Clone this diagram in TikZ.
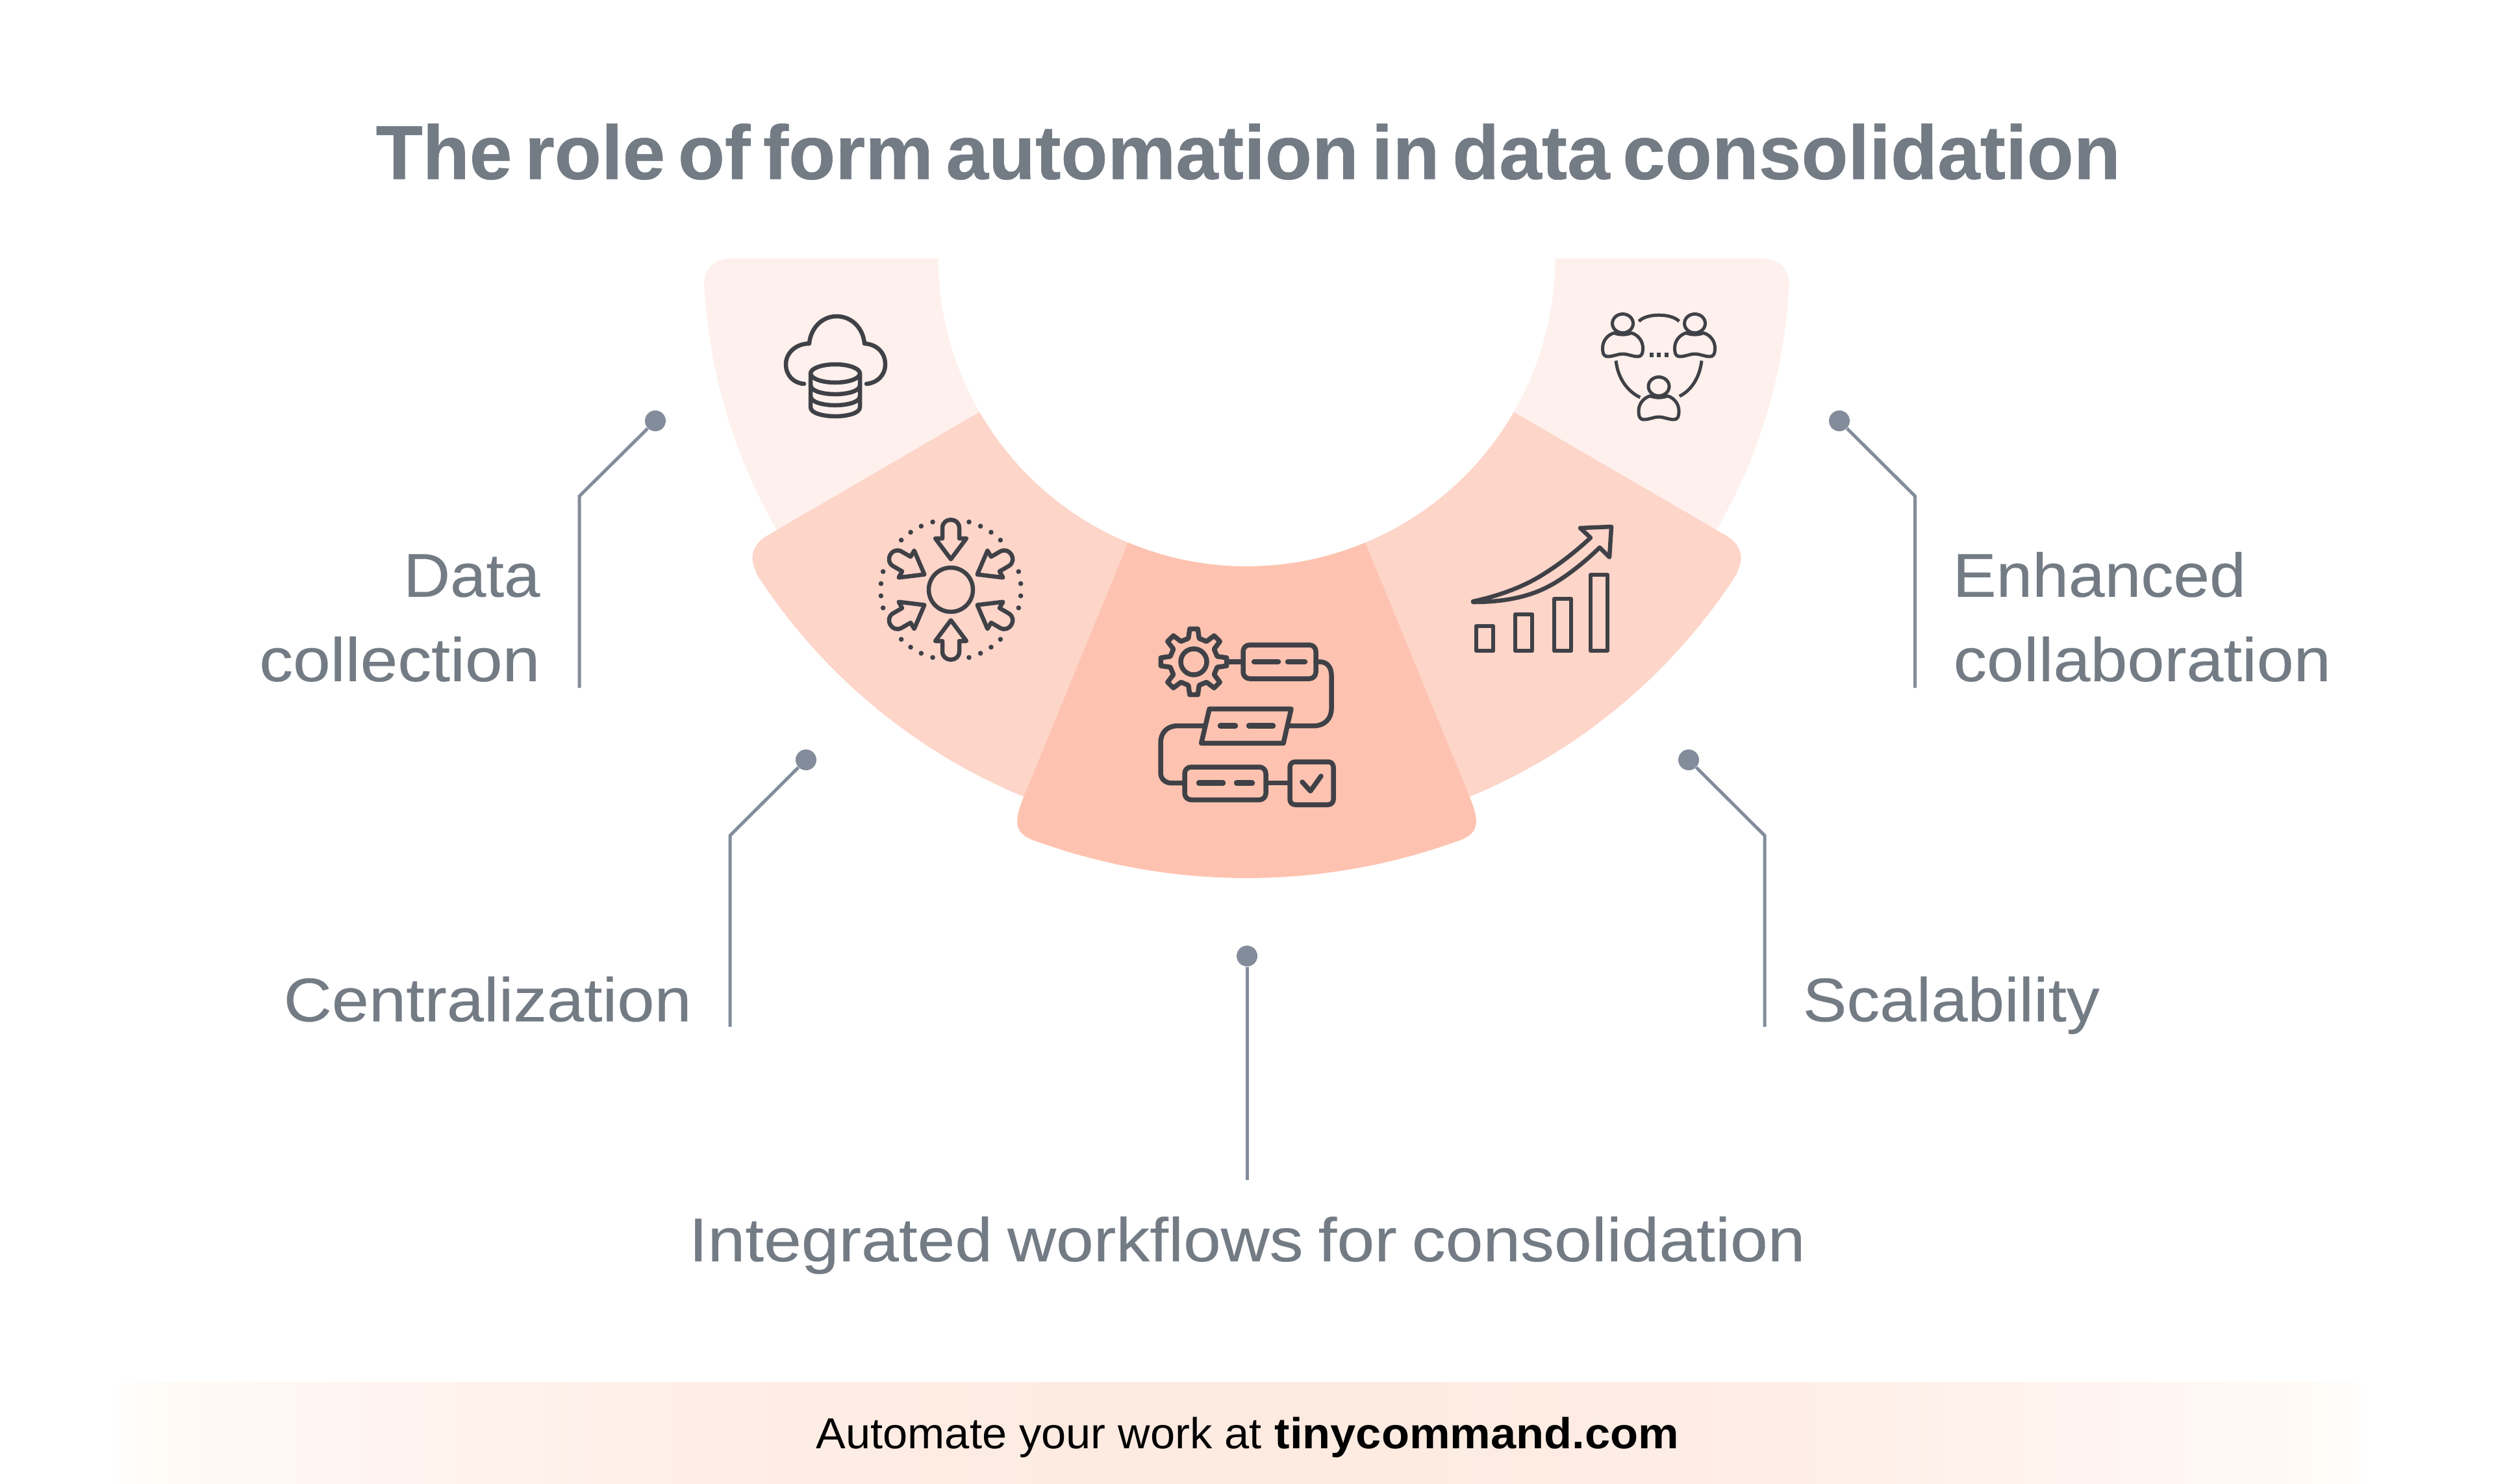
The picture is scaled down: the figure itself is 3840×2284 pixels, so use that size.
\documentclass[tikz,border=0pt]{standalone}
\usepackage{fontspec}
\usepackage{graphicx}
\setmainfont{Liberation Sans}
\newfontfamily\titlefont{Liberation Sans}[WordSpace=0.6,BoldFeatures={FakeBold=0.5}]
\newfontfamily\lblfont{Liberation Sans}[WordSpace=0.8,FakeBold=0.15]
\newdimen\pxu \pxu=0.01cm
\newcommand{\fitw}[2]{\resizebox{#1\pxu}{\height}{#2}}
\definecolor{seglight}{HTML}{FEF0EC}
\definecolor{segmid}{HTML}{FDD5C9}
\definecolor{segdark}{HTML}{FEC3B0}
\definecolor{inkc}{HTML}{3F4147}
\definecolor{txtc}{HTML}{737B84}
\definecolor{linec}{HTML}{838C9B}
\definecolor{bandA}{HTML}{FFFAF4}
\definecolor{bandB}{HTML}{FFF4F0}
\definecolor{bandC}{HTML}{FEEEE6}
\definecolor{bandD}{HTML}{FDEAE0}
\pgfdeclarehorizontalshading{bandshade}{100bp}{
 color(0bp)=(white); color(25bp)=(white);
 color(26.5bp)=(bandA); color(31bp)=(bandB); color(38bp)=(bandC);
 color(50bp)=(bandD); color(62bp)=(bandC); color(69bp)=(bandB);
 color(73.5bp)=(bandA); color(75bp)=(white); color(100bp)=(white)}
\tikzset{
 dotnode/.style={circle,fill=linec,inner sep=0pt,minimum size=32\pxu},
 lead/.style={draw=linec,line width=5\pxu,miter limit=10},
 lbltext/.style={inner sep=0pt,text=txtc,font=\lblfont\fontsize{27}{37}\selectfont},
 icon/.style={draw=inkc,line width=6.5\pxu,line join=round,line cap=round},
 iconb/.style={icon,line width=7.5\pxu},
 iconc/.style={draw=inkc,line width=5\pxu,line join=round},
 dashb/.style={draw=inkc,line width=8.5\pxu,line cap=round},
 arcs/.style={domain=#1,samples=90}
}
\begin{document}
\begin{tikzpicture}[x=0.01cm,y=-0.01cm]
\useasboundingbox (0,0) rectangle (3840,2284);
\fill[white] (0,0) rectangle (3840,2284);
% footer band
\shade[shading=bandshade] (170,2128) rectangle (3650,2284);
% segments
\begin{scope}[shift={(1919.5,397)}]
 \fill[seglight] (-473.5,1) -- (-794.5,1) .. controls (-819.5,1) and (-836.5,18) .. (-835.5,43)
   -- plot[arcs=177.05:140] (\x:836) -- plot[arcs=140:180] (\x:475) -- cycle;
 \fill[seglight] (473.5,1) -- (794.5,1) .. controls (819.5,1) and (836.5,18) .. (835.5,43)
   -- plot[arcs=2.95:40] (\x:836) -- plot[arcs=40:0] (\x:475) -- cycle;
 \fill[segmid] (150:475) -- (-740.5,429) .. controls (-759.5,441) and (-767.5,461) .. (-754.5,485)
   -- plot[arcs=147.3:105] (\x:898) -- plot[arcs=105:150] (\x:475) -- cycle;
 \fill[segmid] (30:475) -- (740.5,429) .. controls (759.5,441) and (767.5,461) .. (754.5,485)
   -- plot[arcs=32.7:75] (\x:898) -- plot[arcs=75:30] (\x:475) -- cycle;
 \fill[segdark] (112.6:475) -- (-344.5,833) .. controls (-360.5,873) and (-354.5,886) .. (-328.5,897)
   -- plot[arcs=110.1:69.9] (\x:955) -- (328.5,897) .. controls (354.5,886) and (360.5,873) .. (344.5,833)
   -- (67.4:475) -- plot[arcs=67.4:112.6] (\x:475) -- cycle;
\end{scope}
% cloud icon
\draw[icon] (1238,591) .. controls (1222,590) and (1210,578) .. (1210,561) .. controls (1210,543) and (1226,529) .. (1246,529)
  .. controls (1248,505) and (1266,487) .. (1288,487) .. controls (1311,487) and (1329,505) .. (1331,529)
  .. controls (1350,530) and (1363,543) .. (1363,561) .. controls (1363,578) and (1350,590) .. (1334,591);
\draw[icon] (1286,575) ellipse [x radius=38,y radius=14];
\draw[icon] (1248,575) -- (1248,627) .. controls (1248,637) and (1270,641) .. (1286,641) .. controls (1302,641) and (1324,637) .. (1324,627) -- (1324,575);
\draw[icon] (1248,593) .. controls (1248,603) and (1270,607) .. (1286,607) .. controls (1302,607) and (1324,603) .. (1324,593);
\draw[icon] (1248,610) .. controls (1248,620) and (1270,624) .. (1286,624) .. controls (1302,624) and (1324,620) .. (1324,610);
% converge icon
\begin{scope}[shift={(1464,908)}]
 \draw[icon] (0,0) circle [radius=34];
 \foreach \a in {90,30,-30,-90,150,210}{
  \begin{scope}[rotate=\a]
   \draw[icon] (47,0) -- (79,24) -- (79,13) -- (95,13) .. controls (112,13) and (112,-13) .. (95,-13) -- (79,-13) -- (79,-24) -- cycle;
  \end{scope}
 }
 \foreach \a in {105,115,125,135,165,175,185,195,225,235,245,255,285,295,305,315,345,355,5,15,45,55,65,75}{
  \fill[inkc] (\a:108) circle [radius=3.8];
 }
\end{scope}
% process icon
\begin{scope}[shift={(1838,1019)}]
 \draw[iconb] (-13:37) \foreach \a in {0,45,...,315}{ -- (\a-13:37) -- (\a-7:51) -- (\a+7:51) -- (\a+13:37)} -- cycle;
 \draw[iconb] (0,0) circle [radius=20];
\end{scope}
\draw[iconb,rounded corners=10\pxu] (1914,993) rectangle (2026,1045);
\draw[iconb] (1890,1019) -- (1914,1019);
\draw[dashb] (1931,1019) -- (1968,1019);
\draw[dashb] (1983,1019) -- (2009,1019);
\draw[iconb] (2026,1019) -- (2032,1019) .. controls (2043,1019) and (2050,1027) .. (2050,1040) -- (2050,1091) .. controls (2050,1107) and (2039,1117.6) .. (2023,1117.6) -- (1984,1117.6);
\draw[iconb] (1862,1091.6) -- (1988,1091.6) -- (1976,1144.4) -- (1849.6,1144.4) -- cycle;
\draw[dashb] (1879,1117.6) -- (1902,1117.6);
\draw[dashb] (1923,1117.6) -- (1960,1117.6);
\draw[iconb] (1853,1117.6) -- (1813,1117.6) .. controls (1797,1117.6) and (1787,1128) .. (1787,1144) -- (1787,1190) .. controls (1787,1199) and (1794,1205.7) .. (1803.5,1205.7) -- (1824,1205.7);
\draw[iconb,rounded corners=10\pxu] (1824,1181) rectangle (1949,1231.5);
\draw[dashb] (1846,1205.7) -- (1883,1205.7);
\draw[dashb] (1904,1205.7) -- (1928,1205.7);
\draw[iconb] (1949,1205.7) -- (1986,1205.7);
\draw[iconb,rounded corners=8\pxu] (1986,1173) rectangle (2053,1239);
\draw[iconb] (2005,1204) -- (2017.6,1218) -- (2034,1195);
% growth icon
\draw[icon,line cap=butt] (2273,964) rectangle (2299,1002);
\draw[icon,line cap=butt] (2333,946) rectangle (2359,1002);
\draw[icon,line cap=butt] (2393,922) rectangle (2419,1002);
\draw[icon,line cap=butt] (2449,885) rectangle (2475,1002);
\draw[icon] (2268,926) .. controls (2310,917) and (2345,903) .. (2370,888) .. controls (2400,870) and (2425,850) .. (2449,828)
  -- (2433,813) -- (2481,811) -- (2478,858) -- (2463,843) .. controls (2430,875) and (2400,895) .. (2384,903)
  .. controls (2350,921) and (2310,927) .. (2268,927) -- cycle;
% people icon
\foreach \hx/\hy in {2498.5/498,2609.5/498,2554/595}{
 \begin{scope}[shift={(\hx,\hy)}]
  \draw[iconc] (0,0) ellipse [x radius=16,y radius=14.5];
  \draw[iconc] (-13.5,14.6) .. controls (-24,18) and (-31,27) .. (-31,38) .. controls (-31,48) and (-28,51) .. (-23,51)
    .. controls (-15,51) and (-8,47) .. (0,47) .. controls (8,47) and (15,51) .. (23,51)
    .. controls (28,51) and (31,48) .. (31,38) .. controls (31,27) and (24,18) .. (13.5,14.6)
    .. controls (5,18) and (-5,18) .. (-13.5,14.6) -- cycle;
 \end{scope}
}
\draw[iconc] (2523.4,494.7) .. controls (2535,482) and (2573,482) .. (2585.4,494.7);
\draw[iconc] (2488,555.4) .. controls (2491,582) and (2505,602) .. (2525.3,612);
\draw[iconc] (2620,555.4) .. controls (2617,582) and (2603,602) .. (2585.8,610);
\foreach \dx in {2542.5,2554,2565.5}{ \fill[inkc] (\dx-3,543) rectangle (\dx+3,549.5); }
% title
\node[anchor=base west,inner sep=0pt,text=txtc,font=\titlefont\fontsize{33.5}{33.5}\selectfont\bfseries] (title) at (578,275.7) {\fitw{2686}{The role of form automation in data consolidation}};
% labels
\node[lbltext,anchor=south east,align=right] (data) at (832,1050.5) {\fitw{210}{Data}\\\fitw{432}{collection}};
\node[lbltext,anchor=base west] (central) at (436,1572.5) {\fitw{628}{Centralization}};
\node[lbltext,anchor=base west] (integ) at (1060,1942) {\fitw{1719}{Integrated workflows for consolidation}};
\node[lbltext,anchor=base west] (scal) at (2775,1572.5) {\fitw{457}{Scalability}};
\node[lbltext,anchor=south west,align=left] (enh) at (3007,1050.5) {\hspace*{-1\pxu}\fitw{451}{Enhanced}\\\fitw{581}{collaboration}};
% connectors
\node[dotnode] (d1) at (1009,648) {};
\coordinate (k1) at (892,764); \coordinate (e1) at (892,1059);
\draw[lead] (d1) -- (k1) -- (e1);
\node[dotnode] (d2) at (1241,1170) {};
\coordinate (k2) at (1124,1286.5); \coordinate (e2) at (1124,1581);
\draw[lead] (d2) -- (k2) -- (e2);
\node[dotnode] (d3) at (1920,1472) {};
\coordinate (e3) at (1920,1816.5);
\draw[lead] (d3) -- (e3);
\node[dotnode] (d4) at (2600,1170) {};
\coordinate (k4) at (2717,1286.5); \coordinate (e4) at (2717,1581);
\draw[lead] (d4) -- (k4) -- (e4);
\node[dotnode] (d5) at (2832,648) {};
\coordinate (k5) at (2948.6,764); \coordinate (e5) at (2948.6,1059);
\draw[lead] (d5) -- (k5) -- (e5);
% footer text
\node[anchor=base west,inner sep=0pt,text=black,font=\fontsize{19}{19}\selectfont] (foot) at (1256,2230) {\fitw{686}{Automate your work at}\hspace{20\pxu}\fitw{622}{\textbf{tinycommand.com}}};
\end{tikzpicture}
\end{document}
